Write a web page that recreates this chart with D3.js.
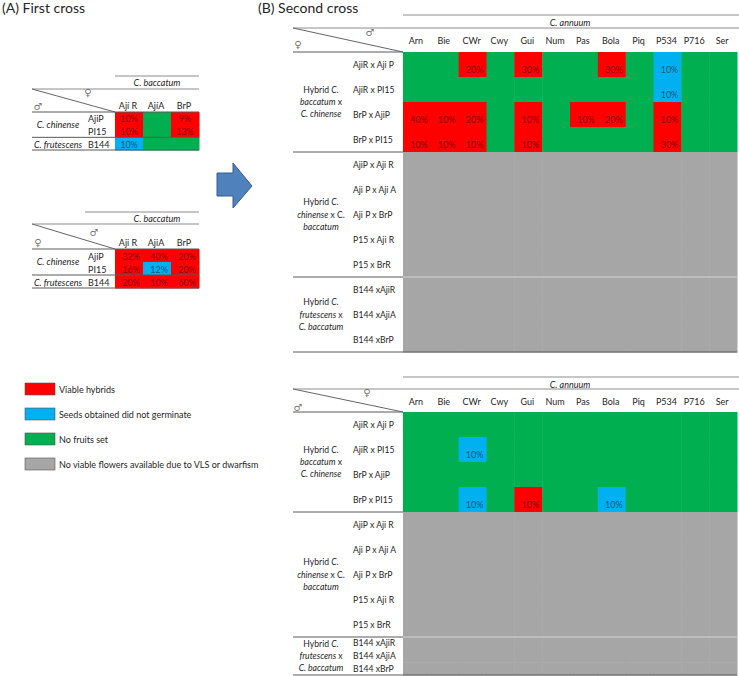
<!DOCTYPE html>
<html><head><meta charset="utf-8">
<script src="https://cdn.jsdelivr.net/npm/d3@7"></script>
<style>
body{margin:0;background:#fff}
text{font-family:Lato,"Open Sans","Liberation Sans",sans-serif;fill:#262626}
</style>
</head><body>
<svg id="c" width="739" height="676"></svg>
<script>
// ---------- DATA ----------
const statusColors = {R:"#FF0000", B:"#00B0F0", G:"#00B050", N:"#A6A6A6"};
const legendKeys = ["R","B","G","N"];
const legendLabels = ["Viable hybrids","Seeds  obtained did not germinate","No fruits set","No viable flowers available due to VLS or dwarfism"];

// Panel A
const firstCols1 = ["Ají R","AjíA","BrP"];
const firstCols2 = ["Aji R","AjiA","BrP"];
const firstRows = ["AjiP","PI15","B144"];
const firstSpecies = ["C. chinense","C. frutescens"];
const first1Status = [["R","G","R"],["R","G","R"],["B","G","G"]];
const first1Values = [["10%","","9%"],["10%","","13%"],["10%","",""]];
const first2Status = [["R","R","R"],["R","B","R"],["R","R","R"]];
const first2Values = [["32%","40%","20%"],["16%","12%","20%"],["20%","10%","60%"]];

// Panel B
const annuumCols = ["Arn","Bie","CWr","Cwy","Gui","Num","Pas","Bola","Piq","P534","P716","Ser"];
const hybBC = ["AjiR x Aji P","AjiR x PI15","BrP x AjiP","BrP x PI15"];
const hybCB = ["AjiP x Aji R","Aji P x Aji A","Aji P x BrP","P15 x Aji R","P15 x BrR"];
const hybFB = ["B144 xAjiR","B144 xAjiA","B144 xBrP"];

const second1Status = [
  ["G","G","R","G","R","G","G","R","G","B","G","G"],
  ["G","G","G","G","G","G","G","G","G","B","G","G"],
  ["R","R","R","G","R","G","R","R","G","R","G","G"],
  ["R","R","R","G","R","G","G","G","G","R","G","G"]
];
const second1Values = [
  ["","","20%","","30%","","","30%","","10%","",""],
  ["","","","","","","","","","10%","",""],
  ["40%","10%","20%","","10%","","10%","20%","","10%","",""],
  ["10%","10%","10%","","10%","","","","","30%","",""]
];
const second2Status = [
  ["G","G","G","G","G","G","G","G","G","G","G","G"],
  ["G","G","B","G","G","G","G","G","G","G","G","G"],
  ["G","G","G","G","G","G","G","G","G","G","G","G"],
  ["G","G","B","G","R","G","G","B","G","G","G","G"]
];
const second2Values = [
  ["","","","","","","","","","","",""],
  ["","","10%","","","","","","","","",""],
  ["","","","","","","","","","","",""],
  ["","","10%","","10%","","","10%","","","",""]
];
const groupLabelBC = [[["Hybrid ",0],["C.",1]],[["baccatum",1],[" x",0]],[["C. chinense",1]]];
const groupLabelCB = [[["Hybrid ",0],["C.",1]],[["chinense",1],[" x C.",0]],[["baccatum",1]]];
const groupLabelFB = [[["Hybrid ",0],["C.",1]],[["frutescens",1],[" x",0]],[["C. baccatum",1]]];

// ---------- DRAW ----------
const svg = d3.select("#c");
const FEMALE = "\u2640", MALE = "\u2642";
const dark = "#595959", light = "#8c8c8c";

function line(g, x1, y1, x2, y2, color, w) {
  g.append("line").attr("x1",x1).attr("y1",y1).attr("x2",x2).attr("y2",y2)
    .attr("stroke",color).attr("stroke-width",w||1);
}
function sym(g, x, y, s) {
  g.append("text").attr("x",x).attr("y",y).attr("text-anchor","middle")
    .style("font-family","DejaVu Sans").style("font-size","10px").style("fill","#777").text(s);
}
function multiLabel(g, x, yc, lines, fs) {
  const lh = 12.3;
  lines.forEach((segs, i) => {
    const t = g.append("text").attr("x",x).attr("y", yc + (i-(lines.length-1)/2)*lh + 3)
      .attr("text-anchor","middle").style("font-size",fs+"px");
    segs.forEach(([s,it]) => t.append("tspan").style("font-style", it?"italic":"normal").text(s));
  });
}

// Titles
svg.append("text").attr("x",2).attr("y",13).style("font-size","14px").text("(A) First cross");
svg.append("text").attr("x",258).attr("y",13).style("font-size","14px").text("(B) Second cross");

// Panel A tables
function drawA(cfg) {
  const g = svg.append("g");
  const x = d3.scaleBand().domain(cfg.cols).range([115,199]);
  const y = d3.scaleBand().domain(firstRows).range([cfg.hBot, cfg.bottom]);
  line(g, cfg.topX, cfg.hTop, 199, cfg.hTop, light);
  g.append("text").attr("x",157).attr("y",cfg.hTop+10).attr("text-anchor","middle")
    .style("font-size","9px").style("font-style","italic").text("C. baccatum");
  line(g, 32, cfg.hMid, 199, cfg.hMid, light);
  line(g, 32, cfg.hMid, 115, cfg.hBot, "#666");
  sym(g, cfg.symUp[0], cfg.symUp[1], cfg.symUp[2]);
  sym(g, cfg.symLow[0], cfg.symLow[1], cfg.symLow[2]);
  g.selectAll(".cl").data(cfg.cols).join("text")
    .attr("x", d => x(d)+x.bandwidth()/2 - 1).attr("y", cfg.hBot-3)
    .attr("text-anchor","middle").style("font-size","9px").text(d => d);
  firstRows.forEach((r, i) => {
    g.selectAll(null).data(cfg.status[i]).join("rect")
      .attr("x",(d,j)=>x(cfg.cols[j])).attr("y",y(r))
      .attr("width",x.bandwidth()+0.5).attr("height",y.bandwidth()+0.5)
      .attr("fill",d=>statusColors[d]);
    g.selectAll(null).data(cfg.values[i]).join("text")
      .attr("x",(d,j)=> cfg.align==="middle" ? x(cfg.cols[j])+x.bandwidth()/2 : x(cfg.cols[j])+x.bandwidth()-3)
      .attr("y",y(r)+y.bandwidth()-2.5)
      .attr("text-anchor", cfg.align==="middle" ? "middle" : "end")
      .style("font-size","9px").style("fill","#000").style("fill-opacity",0.55).text(d=>d);
    g.append("text").attr("x",88).attr("y",y(r)+y.bandwidth()-2.5).style("font-size","9px").text(r);
  });
  const yc1 = y(firstRows[0]) + y.bandwidth();
  g.append("text").attr("x",58).attr("y",yc1+3).attr("text-anchor","middle")
    .style("font-size","9px").style("font-style","italic").text(firstSpecies[0]);
  g.append("text").attr("x",58).attr("y",y(firstRows[2])+y.bandwidth()-2.5).attr("text-anchor","middle")
    .style("font-size","9px").style("font-style","italic").text(firstSpecies[1]);
  line(g, 32, cfg.hBot, 199, cfg.hBot, dark);
  line(g, 32, y(firstRows[2]), 199, y(firstRows[2]), dark);
  line(g, 32, cfg.bottom, 199, cfg.bottom, dark);
}
drawA({cols:firstCols1, hTop:76, topX:115, hMid:89, hBot:112, bottom:150,
  symUp:[88,96,FEMALE], symLow:[38,110,MALE], status:first1Status, values:first1Values, align:"middle"});
drawA({cols:firstCols2, hTop:212, topX:85, hMid:224, hBot:249, bottom:288,
  symUp:[94,236,MALE], symLow:[38,246,FEMALE], status:first2Status, values:first2Values, align:"end"});

// Arrow
svg.append("path")
  .attr("d","M217,173 L233,173 L233,163 L252,186 L233,208 L233,196 L217,196 Z")
  .attr("fill","#4F81BD").attr("stroke","#385D8A").attr("stroke-width",1);

// Legend
const lg = svg.append("g");
const ly = d3.scaleBand().domain(legendKeys).range([383,483]);
legendKeys.forEach((k,i) => {
  lg.append("rect").attr("x",25).attr("y",ly(k)).attr("width",30).attr("height",12)
    .attr("fill",statusColors[k]).attr("stroke","#555").attr("stroke-width",0.6);
  lg.append("text").attr("x",59).attr("y",ly(k)+10).style("font-size","9px").text(legendLabels[i]);
});

// Panel B tables
function drawB(cfg) {
  const g = svg.append("g");
  const x = d3.scaleBand().domain(annuumCols).range([403,737]);
  line(g, 403, cfg.t, 739, cfg.t, light);
  g.append("text").attr("x",570).attr("y",cfg.t+11).attr("text-anchor","middle")
    .style("font-size","9px").style("font-style","italic").text("C. annuum");
  line(g, 293, cfg.m, 739, cfg.m, light);
  line(g, 293, cfg.m, 403, cfg.b, "#666");
  sym(g, cfg.symUp[0], cfg.symUp[1], cfg.symUp[2]);
  sym(g, cfg.symLow[0], cfg.symLow[1], cfg.symLow[2]);
  g.selectAll(null).data(annuumCols).join("text")
    .attr("x", d => x(d)+x.bandwidth()/2 - 1).attr("y", cfg.m + 16)
    .attr("text-anchor","middle").style("font-size","9px").text(d => d);

  cfg.groups.forEach(gr => {
    const y = d3.scaleBand().domain(gr.rows).range([gr.y0, gr.y1]);
    gr.rows.forEach((r,i) => {
      const st = gr.status ? gr.status[i] : annuumCols.map(()=> "N");
      g.selectAll(null).data(st).join("rect")
        .attr("x",(d,j)=>x(annuumCols[j])).attr("y",y(r))
        .attr("width",x.bandwidth()+0.5).attr("height",y.bandwidth()+0.5)
        .attr("fill",d=>statusColors[d]);
      if (gr.values) {
        g.selectAll(null).data(gr.values[i]).join("text")
          .attr("x",(d,j)=>x(annuumCols[j])+x.bandwidth()-3)
          .attr("y",y(r)+y.bandwidth()-4).attr("text-anchor","end")
          .style("font-size","9px").style("fill","#000").style("fill-opacity",0.55).text(d=>d);
      }
      g.append("text").attr("x",353).attr("y",y(r)+y.bandwidth()/2+3)
        .style("font-size","8.6px").text(r);
    });
    multiLabel(g, 321, (gr.y0+gr.y1)/2, gr.label, 8.6);
  });
  line(g, 293, cfg.b, 403, cfg.b, dark);
  cfg.groups.forEach((gr,i) => {
    if (i>0) {
      line(g, 293, gr.y0, 403, gr.y0, dark);
      if (!gr.status && !cfg.groups[i-1].status) line(g, 403, gr.y0, 737, gr.y0, "#d4d4d4");
    }
  });
  const last = cfg.groups[cfg.groups.length-1];
  line(g, 293, last.y1, 737, last.y1, dark);
}
drawB({t:15, m:28, b:52, symUp:[370,36,MALE], symLow:[298,48,FEMALE], groups:[
  {rows:hybBC, y0:52, y1:152, status:second1Status, values:second1Values, label:groupLabelBC},
  {rows:hybCB, y0:152, y1:277, label:groupLabelCB},
  {rows:hybFB, y0:277, y1:352, label:groupLabelFB}
]});
drawB({t:377, m:389, b:412, symUp:[367,396,FEMALE], symLow:[298,411,MALE], groups:[
  {rows:hybBC, y0:412, y1:512, status:second2Status, values:second2Values, label:groupLabelBC},
  {rows:hybCB, y0:512, y1:637, label:groupLabelCB},
  {rows:hybFB, y0:637, y1:675, label:groupLabelFB}
]});
</script>
</body></html>
